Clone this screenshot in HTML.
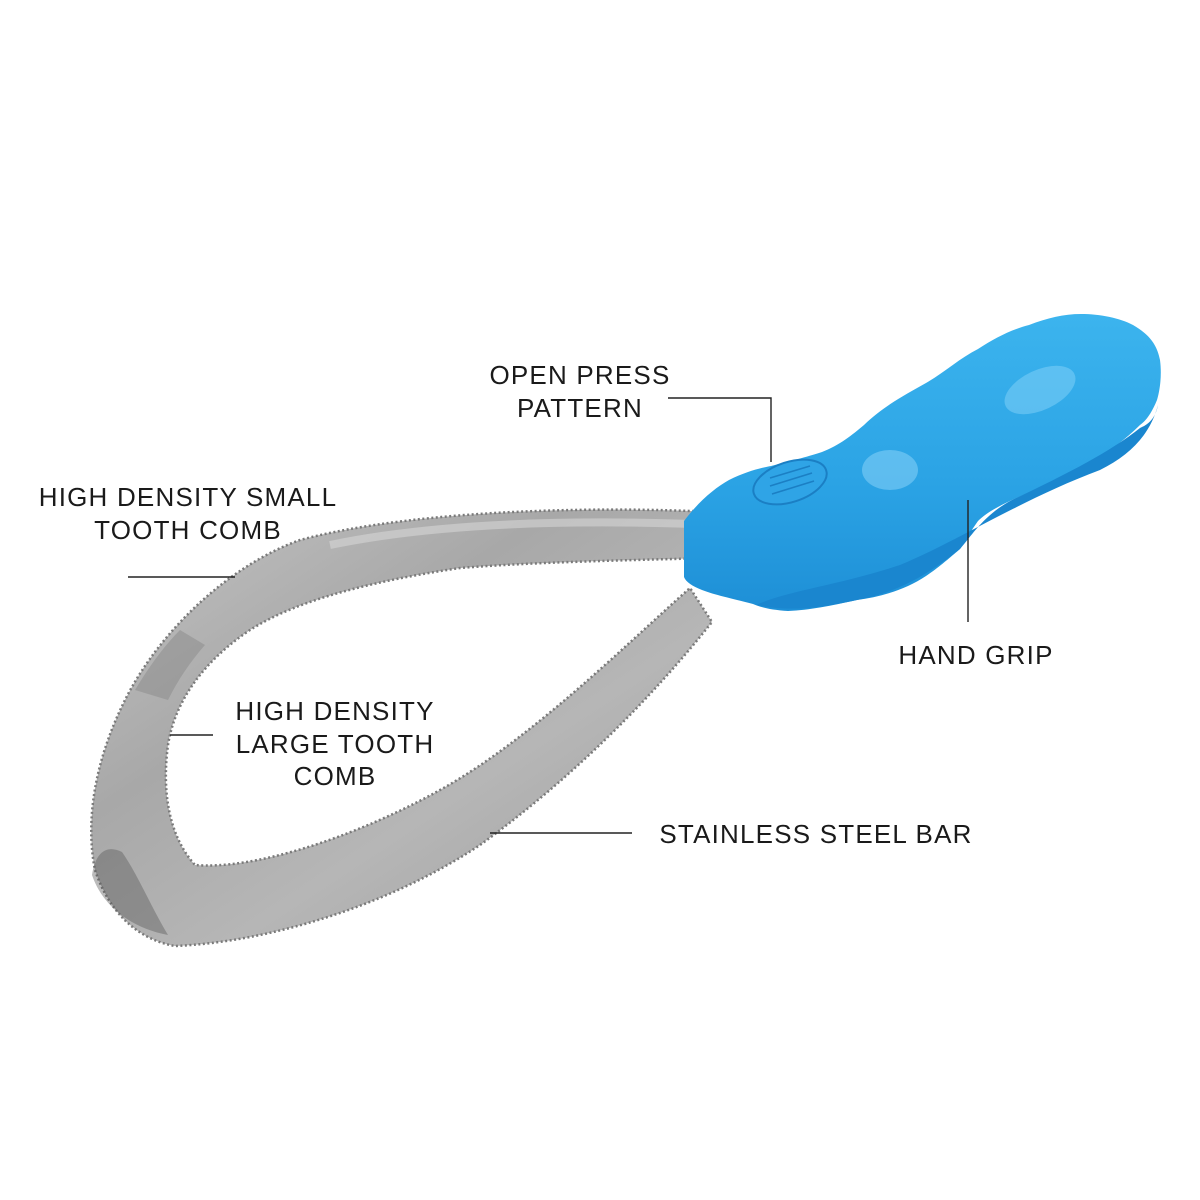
<!DOCTYPE html>
<html><head><meta charset="utf-8"><style>
html,body{margin:0;padding:0;background:#fff}
svg{display:block}
text{font-family:"Liberation Sans",sans-serif;font-size:26px;fill:#1a1a1a;letter-spacing:1.2px}
</style></head><body>
<svg width="1200" height="1200" viewBox="0 0 1200 1200" xmlns="http://www.w3.org/2000/svg">
<defs>
<linearGradient id="st" x1="0" y1="0" x2="1" y2="1">
<stop offset="0" stop-color="#c4c4c4"/><stop offset="0.35" stop-color="#a8a8a8"/><stop offset="0.6" stop-color="#b6b6b6"/><stop offset="1" stop-color="#9a9a9a"/>
</linearGradient>
<linearGradient id="bl" x1="0" y1="0" x2="0" y2="1">
<stop offset="0" stop-color="#3cb4ee"/><stop offset="0.6" stop-color="#2aa2e4"/><stop offset="1" stop-color="#1e8fd6"/>
</linearGradient>
</defs>
<!-- steel band -->
<path d="M748,514 C620,505 420,508 300,540 C230,565 160,630 125,700 C95,760 85,820 95,870 C110,915 140,940 175,946
 C270,942 390,905 480,845 C570,780 650,700 712,622
 L690,588 C620,650 530,740 440,790 C350,840 250,870 195,865 C168,835 162,790 168,745 C175,700 205,660 250,630 C300,598 380,580 460,568 C560,560 680,560 758,556 Z"
 fill="url(#st)" stroke="#7a7a7a" stroke-width="2.5" stroke-dasharray="2 2.5"/>
<path d="M135,690 C150,665 165,645 180,630 L205,645 C190,662 178,680 168,700 Z" fill="#8a8a8a" opacity="0.5"/>
<path d="M92,875 C96,850 108,845 122,852 C138,875 150,905 168,935 C130,928 102,905 92,875 Z" fill="#555" opacity="0.4"/>
<path d="M330,545 C450,520 600,520 720,525" stroke="#d6d6d6" stroke-width="8" fill="none" opacity="0.6"/>
<!-- handle -->
<path d="M684,521 C700,500 715,488 729,480 C745,472 760,468 771,466 C795,460 810,456 822,452 C840,445 852,435 864,425 C885,405 905,395 926,383 C945,372 960,358 978,349 C995,338 1010,330 1029,325 C1047,318 1064,314 1081,314 C1100,314 1120,318 1133,325 C1150,335 1157,345 1160,360 C1162,375 1160,390 1157,400 C1152,412 1147,420 1140,425 C1125,440 1110,450 1098,459 C1065,475 1035,490 1012,500 C995,508 985,514 978,521 C970,532 965,542 960,549 C945,562 935,570 926,576 C905,590 880,597 857,600 C830,606 810,610 788,611 C770,610 760,607 753,604 C730,598 715,595 702,590 C692,586 686,582 684,577 Z" fill="url(#bl)"/>
<path d="M756,605 C790,590 840,585 900,565 C960,540 1020,500 1100,470 C1130,455 1150,435 1158,405 C1155,420 1147,425 1140,428 C1110,452 1065,475 1012,500 C985,514 972,535 960,549 C930,573 900,592 857,600 C820,608 790,612 756,605 Z" fill="#1a86cf"/>
<ellipse cx="890" cy="470" rx="28" ry="20" fill="#8fd6fa" opacity="0.5"/>
<ellipse cx="1040" cy="390" rx="38" ry="20" fill="#8fd6fa" opacity="0.45" transform="rotate(-25 1040 390)"/>
<ellipse cx="790" cy="482" rx="38" ry="20" fill="#2fa4e6" stroke="#1b7fc4" stroke-width="2" transform="rotate(-18 790 482)"/>
<g stroke="#1b7fc4" stroke-width="1.6">
<line x1="770" y1="478" x2="810" y2="466"/><line x1="770" y1="486" x2="812" y2="473"/><line x1="772" y1="494" x2="814" y2="481"/>
</g>
<!-- leader lines -->
<g stroke="#222" stroke-width="1.4" fill="none">
<polyline points="668,398 771,398 771,462"/>
<line x1="128" y1="577" x2="235" y2="577"/>
<line x1="968" y1="500" x2="968" y2="622"/>
<line x1="170" y1="735" x2="213" y2="735"/>
<line x1="490" y1="833" x2="632" y2="833"/>
</g>
<text x="580" y="384" text-anchor="middle">OPEN PRESS</text>
<text x="580" y="417" text-anchor="middle">PATTERN</text>
<text x="188" y="506" text-anchor="middle">HIGH DENSITY SMALL</text>
<text x="188" y="539" text-anchor="middle">TOOTH COMB</text>
<text x="976" y="664" text-anchor="middle">HAND GRIP</text>
<text x="335" y="720" text-anchor="middle">HIGH DENSITY</text>
<text x="335" y="753" text-anchor="middle">LARGE TOOTH</text>
<text x="335" y="785" text-anchor="middle">COMB</text>
<text x="816" y="843" text-anchor="middle">STAINLESS STEEL BAR</text>
</svg>
</body></html>
